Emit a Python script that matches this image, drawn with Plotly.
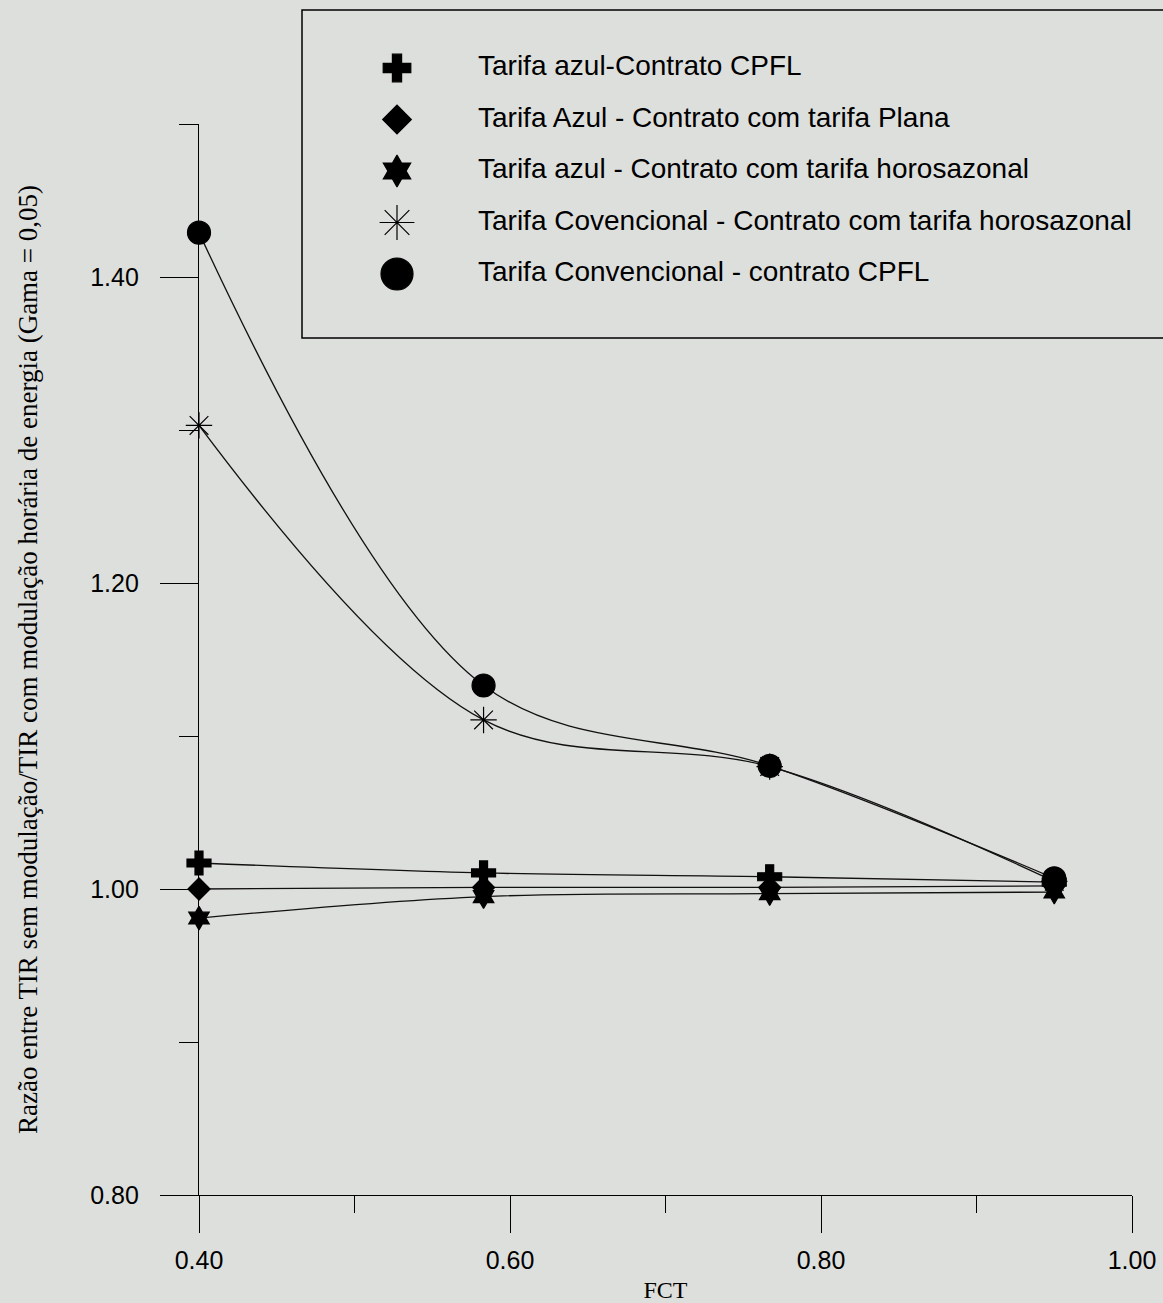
import plotly.graph_objects as go

# FCT values (x) and the ratio of internal rates of return for each tariff/contract case
fct = [0.40, 0.583, 0.767, 0.95]

azul_cpfl = [1.017, 1.0105, 1.008, 1.0045]          # Tarifa azul - Contrato CPFL
azul_plana = [1.000, 1.001, 1.001, 1.002]           # Tarifa Azul - Contrato com tarifa Plana
azul_horosazonal = [0.981, 0.995, 0.997, 0.998]     # Tarifa azul - Contrato com tarifa horosazonal
conv_horosazonal = [1.303, 1.1105, 1.080, 1.005]    # Tarifa Covencional - Contrato com tarifa horosazonal
conv_cpfl = [1.429, 1.133, 1.0805, 1.007]           # Tarifa Convencional - contrato CPFL

series_names = [
    "Tarifa azul-Contrato CPFL",
    "Tarifa Azul - Contrato com tarifa Plana",
    "Tarifa azul - Contrato com tarifa horosazonal",
    "Tarifa Covencional - Contrato com tarifa horosazonal",
    "Tarifa Convencional - contrato CPFL",
]
series_values = [azul_cpfl, azul_plana, azul_horosazonal, conv_horosazonal, conv_cpfl]

x_ticks = [0.40, 0.60, 0.80, 1.00]
y_ticks = [0.80, 1.00, 1.20, 1.40]

# marker styling per series
symbols = ["cross", "diamond", "hexagram", "asterisk-open", "circle"]
plot_sizes = [20, 17, 18, 22, 23]
key_sizes = [23, 22, 24, 29, 32]

BG = "#dddfdc"
INK = "#000000"
W, H = 1163, 1303

fig = go.Figure()

for name, vals, sym, sz in zip(series_names, series_values, symbols, plot_sizes):
    fig.add_trace(go.Scatter(
        x=fct, y=vals, name=name, mode="lines+markers",
        line=dict(color="#111111", width=1.3, shape="spline", smoothing=1.0),
        marker=dict(symbol=sym, size=sz, color=INK, opacity=1,
                    line=dict(color=INK, width=1.2)),
        cliponaxis=False, showlegend=False,
    ))

# key box: symbols and labels on their own small axes
rows = list(range(len(series_names)))
for r, sym, sz in zip(rows, symbols, key_sizes):
    fig.add_trace(go.Scatter(
        x=[0], y=[r], mode="markers",
        marker=dict(symbol=sym, size=sz, color=INK, opacity=1,
                    line=dict(color=INK, width=1.2)),
        xaxis="x2", yaxis="y2", showlegend=False, cliponaxis=False, hoverinfo="skip",
    ))
fig.add_trace(go.Scatter(
    x=[1] * len(rows), y=rows, mode="text", text=series_names,
    textposition="middle right",
    textfont=dict(family="Liberation Sans, Arial, sans-serif", size=28, color=INK),
    xaxis="x2", yaxis="y2", showlegend=False, cliponaxis=False, hoverinfo="skip",
))

axis_font = dict(family="Liberation Sans, Arial, sans-serif", size=25, color=INK)
title_font = dict(family="Liberation Serif, Times New Roman, serif", size=27, color=INK)

key_left, key_top, key_bottom = 302, 10, 338
row_top, row_gap = 68, 51.5
sym_x, text_x = 397, 478
unit = text_x - sym_x

fig.update_layout(
    width=W, height=H,
    margin=dict(l=0, r=0, t=0, b=0, autoexpand=False),
    paper_bgcolor=BG, plot_bgcolor=BG,
    showlegend=False,
    xaxis=dict(
        domain=[199 / W, 1132 / W], range=[0.40, 1.00], automargin=False,
        tickvals=x_ticks, ticktext=[f"{v:.2f}" for v in x_ticks],
        ticks="outside", ticklen=37, tickwidth=1.2, tickcolor=INK,
        minor=dict(dtick=0.1, tick0=0.4, ticks="outside", ticklen=17, tickwidth=1.2, tickcolor=INK),
        showline=True, linecolor=INK, linewidth=1.3,
        showgrid=False, zeroline=False,
        tickfont=axis_font, ticklabelstandoff=6,
        title=dict(text="FCT", font=dict(title_font, size=24), standoff=16),
        fixedrange=True,
    ),
    yaxis=dict(
        domain=[1 - 1195 / H, 1 - 124 / H], range=[0.80, 1.50], automargin=False,
        tickvals=y_ticks, ticktext=[f"{v:.2f}" for v in y_ticks],
        ticks="outside", ticklen=38, tickwidth=1.2, tickcolor=INK,
        minor=dict(dtick=0.1, tick0=0.8, ticks="outside", ticklen=19, tickwidth=1.2, tickcolor=INK),
        showline=True, linecolor=INK, linewidth=1.3,
        showgrid=False, zeroline=False,
        tickfont=axis_font, ticklabelstandoff=16,
        title=dict(
            text="Razão entre TIR sem modulação/TIR com modulação horária de energia (Gama = 0,05)",
            font=title_font, standoff=44,
        ),
        fixedrange=True,
    ),
    xaxis2=dict(
        domain=[key_left / W, 1.0], anchor="y2", visible=False, fixedrange=True, automargin=False,
        range=[-(sym_x - key_left) / unit, (W - sym_x) / unit],
    ),
    yaxis2=dict(
        domain=[1 - key_bottom / H, 1 - key_top / H], anchor="x2", visible=False, fixedrange=True,
        automargin=False,
        range=[(key_bottom - row_top) / row_gap, (key_top - row_top) / row_gap],
    ),
    shapes=[dict(
        type="rect", xref="paper", yref="paper",
        x0=key_left / W, x1=1.02, y0=1 - key_bottom / H, y1=1 - key_top / H,
        line=dict(color=INK, width=1.5), fillcolor="rgba(0,0,0,0)", layer="above",
    )],
)

fig.write_html("out.html")
